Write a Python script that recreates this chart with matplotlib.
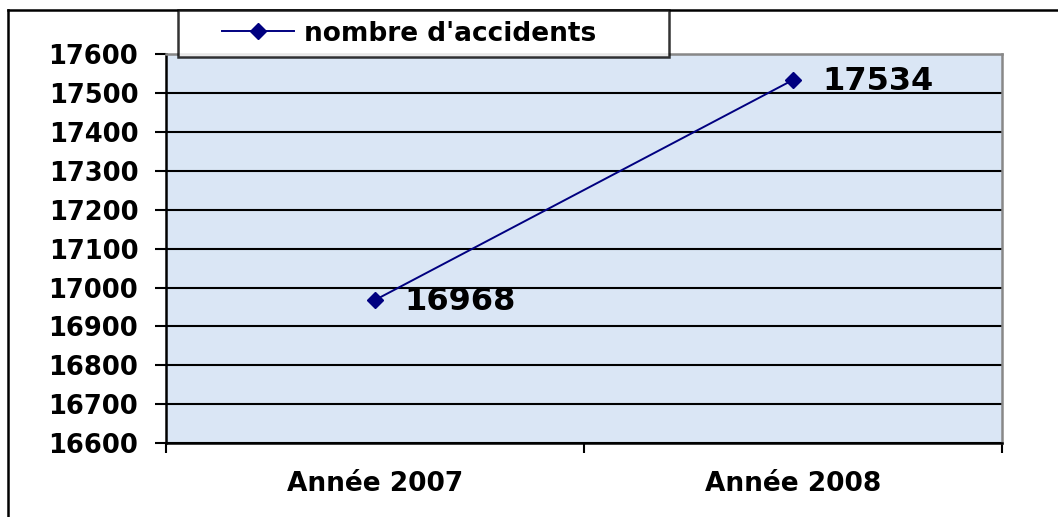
import matplotlib.pyplot as plt
from matplotlib.lines import Line2D
from matplotlib.legend_handler import HandlerLine2D

# data
years = ["Année 2007", "Année 2008"]
accidents = [16968, 17534]
yticks = list(range(16600, 17700, 100))
series_name = "nombre d'accidents"

plt.rcParams['font.family'] = ['DejaVu Sans']
plt.rcParams['font.weight'] = 'bold'


class ShiftedLineHandler(HandlerLine2D):
    # legend line drawn in the right part of the handle area, like the original
    def create_artists(self, legend, orig_handle, xdescent, ydescent,
                       width, height, fontsize, trans):
        shift = width * 0.315
        return super().create_artists(legend, orig_handle, xdescent - shift,
                                      ydescent, width - shift, height,
                                      fontsize, trans)


fig = plt.figure(figsize=(10.58, 5.17), dpi=100)
ax = fig.add_axes([0.157, 0.143, 0.790, 0.752])
ax.set_facecolor('#dae6f5')

x = list(range(len(years)))
ax.plot(x, accidents, color='#000080', lw=1.4, marker='D', ms=8,
        markerfacecolor='#000080', markeredgecolor='#000080', zorder=3)
for xi, v in zip(x, accidents):
    ax.annotate(str(v), (xi, v), xytext=(21, -1), textcoords='offset points',
                fontsize=23, fontweight='bold', va='center', ha='left', color='black')

ax.set_ylim(16600, 17600)
ax.set_yticks(yticks)
ax.set_yticklabels([str(t) for t in yticks], fontsize=18.5, fontweight='bold')
ax.yaxis.grid(True, color='black', lw=1.5)
ax.set_axisbelow(True)

ax.set_xlim(-0.5, len(years) - 0.5)
ax.set_xticks([i - 0.5 for i in range(len(years) + 1)])
ax.set_xticklabels([])
ax.set_xticks(x, minor=True)
ax.set_xticklabels(years, minor=True, fontsize=19, fontweight='bold')
ax.tick_params(axis='x', which='minor', length=0, pad=20)
ax.tick_params(axis='x', which='major', length=7, width=1.5, direction='out')
ax.tick_params(axis='y', length=8, width=1.5, pad=12)

ax.spines['left'].set_linewidth(1.8)
ax.spines['bottom'].set_linewidth(1.8)
ax.spines['top'].set_color('#888888')
ax.spines['right'].set_color('#888888')
ax.spines['right'].set_linewidth(1.8)
ax.spines['top'].set_linewidth(1.8)

# legend box, stretched to the width of the original box
handle = Line2D([], [], color='#000080', lw=1.4, marker='D', ms=8)
leg = fig.legend([handle], [series_name], loc='upper left',
                 bbox_to_anchor=(0.1682, 0.8917, 0.464, 0.089), mode='expand',
                 frameon=True, fancybox=False, edgecolor='black',
                 handlelength=3.98, handletextpad=0.4, borderpad=0.4,
                 borderaxespad=0, prop={'weight': 'bold', 'size': 19},
                 handler_map={Line2D: ShiftedLineHandler()})
leg.get_frame().set_linewidth(1.8)
leg.get_frame().set_facecolor('white')
leg.set_zorder(5)

# outer frame (top and left only visible)
fig.add_artist(Line2D([0.0076, 1.0], [0.9807, 0.9807], color='black', lw=1.8))
fig.add_artist(Line2D([0.0076, 0.0076], [0.0, 0.9807], color='black', lw=1.8))

fig.savefig("out.png", dpi=100)
